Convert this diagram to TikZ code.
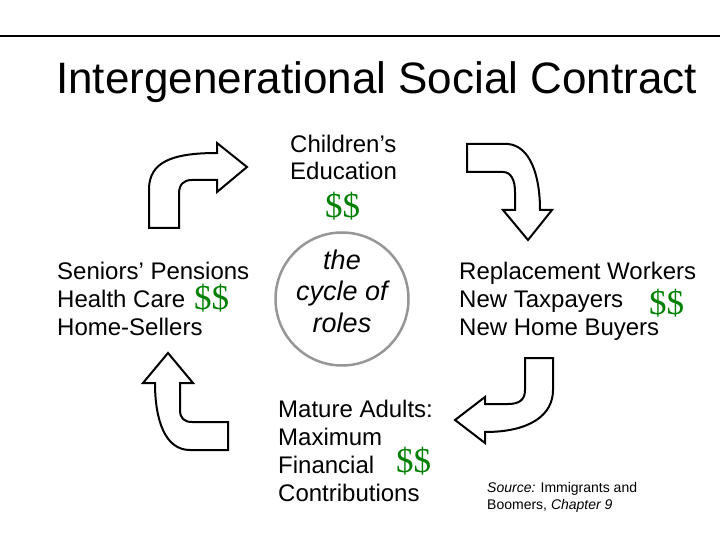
\documentclass[tikz,border=0pt]{standalone}
\usepackage{fontspec}
\setmainfont{Liberation Sans}
\newfontfamily\dollarfont{Liberation Serif}
\definecolor{moneygreen}{RGB}{0,128,0}
\definecolor{ringgray}{RGB}{150,150,150}
\begin{document}
\begin{tikzpicture}[x=1pt,y=-1pt,
  lbl/.style={anchor=base west,inner sep=0pt,font=\fontsize{24}{28}\selectfont},
  money/.style={anchor=base west,inner sep=0pt,text=moneygreen,font=\dollarfont\fontsize{35}{38}\selectfont},
  ringtxt/.style={anchor=base,inner sep=0pt,font=\fontsize{27}{32}\selectfont\itshape},
  src/.style={anchor=base west,inner sep=0pt,font=\fontsize{14}{17}\selectfont},
  bent/.style={draw=black,fill=white,line width=2pt,line join=miter}]
\useasboundingbox (0,0) rectangle (720,540);
\draw[line width=2pt] (0,36) -- (720,36);
\node[anchor=base west,inner sep=0pt,font=\fontsize{44}{50}\selectfont] (title) at (56,94) {Intergenerational Social Contract};

% circle
\node[draw=ringgray,line width=2.5pt,circle,minimum size=133pt,inner sep=0pt] (ring) at (342,299) {};
\node[ringtxt] (r1) at (342,269) {the};
\node[ringtxt] (r2) at (342,300) {cycle of};
\node[ringtxt] (r3) at (342,332) {roles};

% top text
\node[lbl] (c1) at (290,153) {Children’s};
\node[lbl] (c2) at (290,180) {Education};
\node[money] (m1) at (325,218) {\$\$};

% left text
\node[lbl] (s1) at (57,279) {Seniors’ Pensions};
\node[lbl] (s2) at (57,307) {Health Care};
\node[lbl] (s3) at (57,335) {Home-Sellers};
\node[money] (m2) at (194,309) {\$\$};

% right text
\node[lbl] (w1) at (459,279) {Replacement Workers};
\node[lbl] (w2) at (459,307) {New Taxpayers};
\node[lbl] (w3) at (459,335) {New Home Buyers};
\node[money] (m3) at (649,314) {\$\$};

% bottom text
\node[lbl] (a1) at (278,417) {Mature Adults:};
\node[lbl] (a2) at (278,445) {Maximum};
\node[lbl] (a3) at (278,473) {Financial};
\node[lbl] (a4) at (278,501) {Contributions};
\node[money] (m4) at (396,472) {\$\$};

% source
\node[src] (src1) at (487,492) {\textit{Source:} Immigrants and};
\node[src] (src2) at (487,509) {Boomers, \textit{Chapter 9}};

% top-left arrow
\draw[bent] (149,228) -- (149,188) .. controls (150,163) and (170,153) .. (217,153)
  -- (217,143) -- (247,167) -- (217,192) -- (217,180) -- (192,180)
  .. controls (183,180) and (179,185) .. (179,194) -- (179,228) -- cycle;
% top-right arrow
\draw[bent] (467,144) -- (508,144) .. controls (530,146) and (540,175) .. (540,210)
  -- (552,210) -- (528,240) -- (503,210) -- (515,210) -- (515,192)
  .. controls (515,180) and (511,172) .. (503,172) -- (467,172) -- cycle;
% bottom-right arrow
\draw[bent] (525,358) -- (553,358) -- (553,390) .. controls (553,415) and (530,432) .. (485,432)
  -- (485,443) -- (455,420) -- (485,397) -- (485,404) -- (508,404)
  .. controls (519,404) and (525,400) .. (525,390) -- cycle;
% bottom-left arrow
\draw[bent] (168,353) -- (193,383) -- (180,383) -- (180,410)
  .. controls (180,418) and (184,422) .. (192,422) -- (228,422) -- (228,450) -- (190,450)
  .. controls (165,450) and (155,420) .. (155,383) -- (143,383) -- cycle;
\end{tikzpicture}
\end{document}
